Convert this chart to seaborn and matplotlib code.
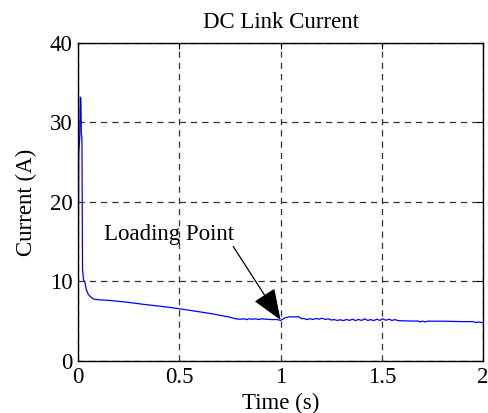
import matplotlib
matplotlib.use("Agg")
import matplotlib.pyplot as plt
import seaborn as sns
import pandas as pd

# DC link current trace (time in s, current in A)
time_s = [0.000, 0.003, 0.008, 0.011, 0.014, 0.016, 0.019, 0.022, 0.027, 0.033,
          0.040, 0.050, 0.060, 0.075, 0.100, 0.160, 0.220, 0.270, 0.330, 0.400,
          0.450, 0.490, 0.530, 0.570, 0.620, 0.670, 0.700, 0.740, 0.780, 0.800,
          0.820, 0.835, 0.845, 0.860, 0.875, 0.890, 0.910, 0.930, 0.960, 0.980,
          1.000, 1.020, 1.040, 1.060, 1.090, 1.105, 1.115, 1.130, 1.145, 1.160,
          1.175, 1.190, 1.205, 1.220, 1.235, 1.250, 1.265, 1.280, 1.295, 1.310,
          1.325, 1.340, 1.355, 1.370, 1.385, 1.400, 1.415, 1.430, 1.445, 1.460,
          1.475, 1.490, 1.505, 1.520, 1.535, 1.550, 1.565, 1.580, 1.600, 1.650,
          1.680, 1.690, 1.700, 1.715, 1.725, 1.740, 1.800, 1.900, 1.950, 1.965,
          1.975, 2.000]
current_a = [0.0, 26.0, 28.0, 33.2, 33.0, 28.6, 28.0, 11.5, 10.2, 10.0,
             9.0, 8.4, 8.1, 7.8, 7.7, 7.6, 7.45, 7.3, 7.1, 6.9,
             6.75, 6.6, 6.45, 6.3, 6.1, 5.9, 5.75, 5.55, 5.3, 5.25,
             5.3, 5.2, 5.32, 5.25, 5.3, 5.22, 5.3, 5.25, 5.2, 5.22,
             5.1, 5.4, 5.55, 5.55, 5.55, 5.3, 5.35, 5.2, 5.32, 5.22,
             5.35, 5.25, 5.38, 5.22, 5.3, 5.15, 5.2, 5.1, 5.18, 5.08,
             5.22, 5.1, 5.25, 5.08, 5.22, 5.1, 5.3, 5.1, 5.2, 5.08,
             5.25, 5.1, 5.3, 5.12, 5.25, 5.1, 5.2, 5.08, 5.05, 5.02,
             5.02, 4.9, 5.02, 4.9, 5.02, 5.0, 5.0, 4.95, 4.95, 4.82,
             4.9, 4.82]

x_ticks = [0, 0.5, 1, 1.5, 2]
x_tick_labels = ["0", "0.5", "1", "1.5", "2"]
y_ticks = [0, 10, 20, 30, 40]

df = pd.DataFrame({"Time (s)": time_s, "Current (A)": current_a})

sns.set_style("white")
plt.rcParams["font.family"] = ["Liberation Serif", "DejaVu Serif"]
plt.rcParams["text.color"] = "black"
plt.rcParams["axes.labelcolor"] = "black"

fig = plt.figure(figsize=(4.88, 4.13), dpi=100)
ax = fig.add_axes([0.160, 0.126, 0.830, 0.770])

sns.lineplot(data=df, x="Time (s)", y="Current (A)", ax=ax,
             color="#0000ff", linewidth=0.9, estimator=None, sort=False)

ax.set_xlim(0, 2)
ax.set_ylim(0, 40)
ax.set_xticks(x_ticks)
ax.set_xticklabels(x_tick_labels)
ax.set_yticks(y_ticks)
ax.grid(True, color="#333333", linestyle=(0, (5, 4)), linewidth=0.9)
ax.set_axisbelow(True)

for sp in ax.spines.values():
    sp.set_visible(True)
    sp.set_color("black")
    sp.set_linewidth(1.0)

ax.tick_params(direction="in", length=4, width=0.8, labelsize=16.5,
               top=True, right=True, pad=4, colors="black")
ax.set_xlabel("Time (s)", fontsize=16.5, labelpad=4, color="black")
ax.set_ylabel("Current (A)", fontsize=16.5, labelpad=9, color="black")
ax.set_title("DC Link Current", fontsize=16.5, pad=11, color="black")

ax.text(0.45, 15.85, "Loading Point", fontsize=16.5, ha="center", va="center",
        color="black")
ax.annotate("", xy=(1.0, 5.16), xytext=(0.766, 14.4),
            arrowprops=dict(arrowstyle="-|>,head_length=1.4,head_width=0.55",
                            color="black", lw=0.9, shrinkA=0, shrinkB=0,
                            mutation_scale=14))

fig.savefig("out.png", dpi=100)
